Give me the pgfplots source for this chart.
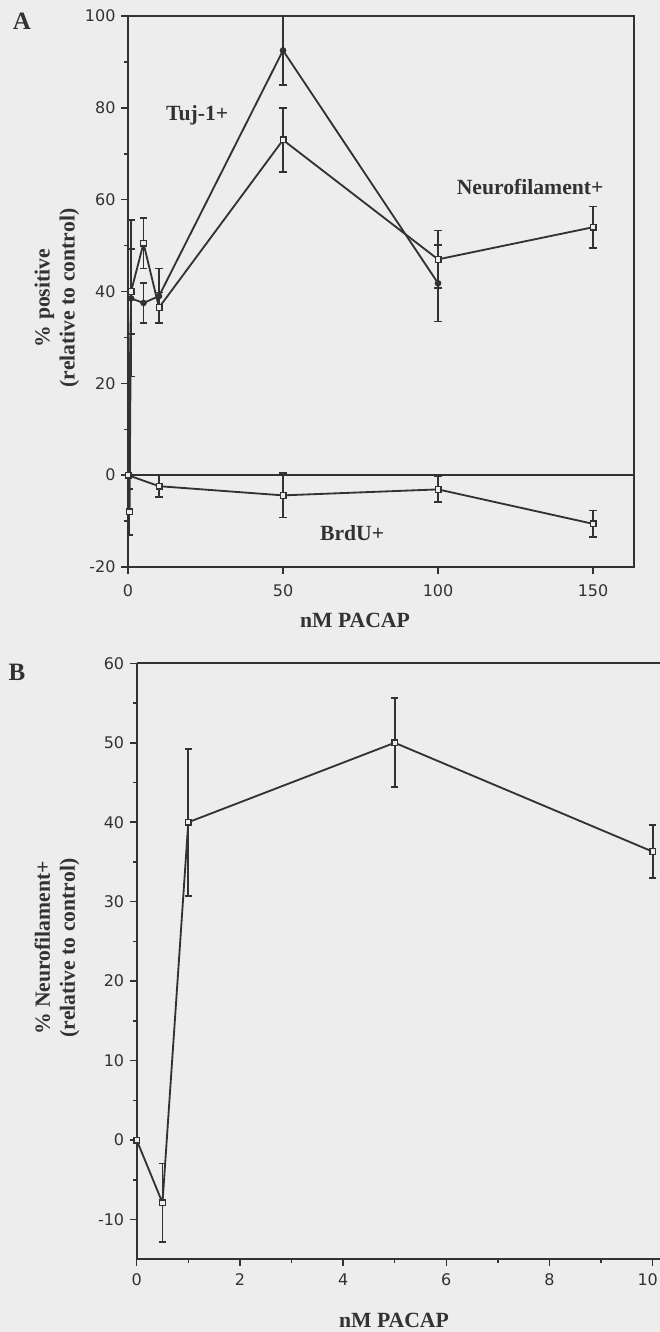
\documentclass[border=0pt]{standalone}
\usepackage{fontspec}
\setmainfont{Liberation Serif}
\newfontfamily\tickfont{DejaVu Sans}
\usepackage{pgfplots}
\pgfplotsset{compat=1.18}
\definecolor{ink}{RGB}{50,50,50}
\definecolor{paper}{RGB}{237,237,237}
\pgfplotsset{
  myax/.style={
    scale only axis,
    anchor=south west,
    axis line style={ink, line width=1.1pt},
    tick style={ink, line width=0.9pt},
    tick align=outside,
    major tick length=4pt,
    minor tick length=2.2pt,
    tick label style={font=\tickfont\fontsize{9.6}{11}\selectfont, text=ink},
    /pgf/number format/assume math mode=true,
    every axis plot/.append style={ink, line width=1.1pt},
    error bars/error bar style={ink, line width=1pt},
    error bars/error mark options={ink, rotate=90, mark size=2.2pt, line width=1pt},
  },
  nf/.style={mark=square*, mark size=1.7pt, mark options={ink, fill=paper, line width=0.8pt}},
  tuj/.style={mark=*, mark size=1.4pt, mark options={ink, fill=ink}},
}
\newcommand{\lab}{\bfseries\fontsize{13}{15}\selectfont\color{ink}}
\begin{document}
\begin{tikzpicture}
\begin{scope}[x=0.6pt,y=-0.6pt]
\fill[paper] (0,0) rectangle (660,1332);
\end{scope}

% ---------------- Panel A ----------------
\begin{axis}[myax, name=A,
  at={(76.8pt,-340.2pt)}, width=303.6pt, height=330.6pt,
  xmin=0, xmax=163.2, ymin=-20, ymax=100,
  xtick={0,50,100,150},
  ytick={-20,0,...,100}, minor ytick={-10,10,...,90},
  tick pos=left,
  xticklabel style={yshift=-3pt},
]
\draw[ink, line width=1.1pt] (axis cs:0,0) -- (axis cs:163.2,0);
% Neurofilament+
\addplot[nf, error bars/.cd, y dir=both, y explicit] coordinates {
  (0,0) +- (0,0)
  (0.5,-8) +- (0,5)
  (1,40) +- (0,9.2)
  (5,50.5) +- (0,5.5)
  (10,36.5) +- (0,3.3)
  (50,73) +- (0,7)
  (100,47) +- (0,6.3)
  (150,54) +- (0,4.5)
};
% Tuj-1+
\addplot[tuj, error bars/.cd, y dir=both, y explicit] coordinates {
  (0,0) +- (0,0)
  (1,38.5) +- (0,17)
  (5,37.5) +- (0,4.4)
  (10,39) +- (0,6)
  (50,92.5) +- (0,7.5)
  (100,41.8) +- (0,8.3)
};
% BrdU+
\addplot[nf, error bars/.cd, y dir=both, y explicit] coordinates {
  (0,0) +- (0,0)
  (10,-2.4) +- (0,2.4)
  (50,-4.4) +- (0,4.8)
  (100,-3.1) +- (0,2.8)
  (150,-10.6) +- (0,2.9)
};
\node[font=\lab] at (axis cs:22.3,78.4) {Tuj-1+};
\node[font=\lab] at (axis cs:129.7,62.7) {Neurofilament+};
\node[font=\lab] at (axis cs:72.3,-12.7) {BrdU+};
\end{axis}

% ---------------- Panel B ----------------
\begin{axis}[myax, name=B,
  at={(82.02pt,-755.58pt)}, width=325.08pt, height=357.6pt,
  xmin=0, xmax=10.5, ymin=-15, ymax=60,
  xtick={0,2,...,8}, minor xtick={1,3,...,9},
  extra x ticks={10},
  extra x tick style={xticklabel style={xshift=-3pt}},
  ytick={-10,0,...,60}, minor ytick={-5,5,...,55},
  axis lines*=left,
  xticklabel style={yshift=-1pt},
]
\addplot[nf, error bars/.cd, y dir=both, y explicit] coordinates {
  (0,0) +- (0,0)
  (0.5,-7.9) +- (0,4.95)
  (1,40) +- (0,9.25)
  (5,50) +- (0,5.6)
  (10,36.3) +- (0,3.35)
};
\end{axis}
\draw[ink, line width=1.1pt] (B.north west) -- (B.north east);

\begin{scope}[x=0.6pt,y=-0.6pt]
\node[font=\bfseries\fontsize{15}{17}\selectfont\color{ink}] at (22,21) {A};
\node[font=\bfseries\fontsize{15}{17}\selectfont\color{ink}] at (17,672) {B};
\node[font=\lab, rotate=90, align=center] at (57,298) {\% positive\\(relative to control)};
\node[font=\lab] at (355,620) {nM PACAP};
\node[font=\lab, rotate=90, align=center] at (57,948) {\% Neurofilament+\\(relative to control)};
\node[font=\lab] at (394,1320) {nM PACAP};
\pgfresetboundingbox
\path[use as bounding box] (0,0) rectangle (660,1332);
\end{scope}
\end{tikzpicture}
\end{document}
